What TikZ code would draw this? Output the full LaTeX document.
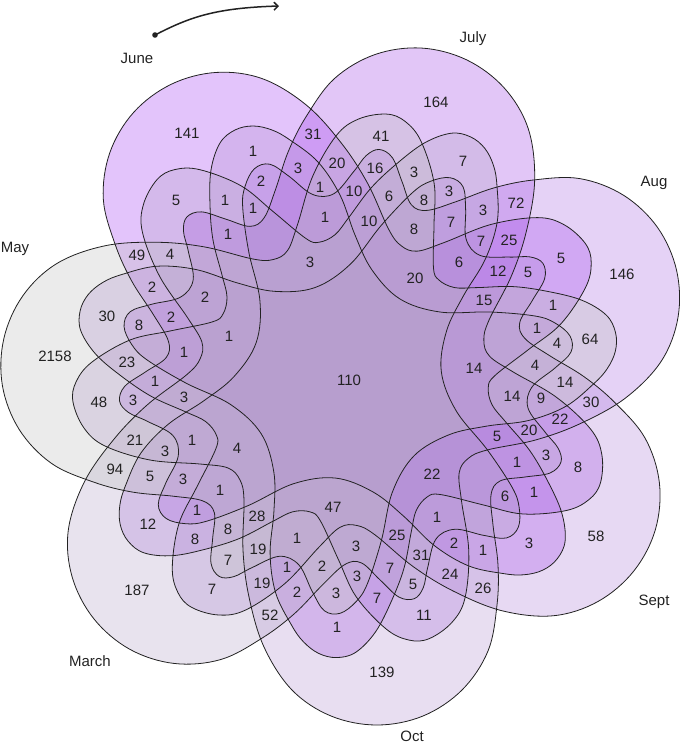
\documentclass[tikz,border=0pt]{standalone}
\usepackage{fontspec}
\setmainfont{Liberation Sans}
\usetikzlibrary{arrows.meta}
\definecolor{txt}{HTML}{222222}
\def\octcurve{(210,205)(211,170)(220,143)(235,130)(253,126)(272,130)(290,140)(318,162)(340,195)(355,235)(372,270)(400,299)(440,312)(490,312)(535,316)(555,323)(570,336)(571,352)(555,368)(532,387)(528,408)(545,432)(558,448)(561,462)(550,473)(525,477)(500,481)(491,495)(493,525)(498,565)(497,605)(488,651)(462,690)(423,716)(377,725)(331,716)(292,690)(264,647)(249,597)(243,550)(244,500)(240,480)(228,468)(200,464)(150,460)(105,446)(84,428)(73,402)(76,382)(92,362)(130,340)(170,331)(212,322)(223,314)(227,297)(222,275)(213,240)}
\tikzset{
  petalfill/.style={fill opacity=0.3},
  petalline/.style={draw=txt,line width=0.8pt},
  num/.style={font=\fontsize{15}{16}\selectfont,text=txt,inner sep=0pt,yshift=-0.6pt},
  month/.style={font=\fontsize{15}{16}\selectfont,text=txt,inner sep=0pt}
}
% #1 angle, #2 dx, #3 dy, #4 style
\newcommand{\petal}[4]{%
  \begin{scope}[shift={(#2,#3)},rotate around={#1:(342,381)}]
  \path[#4] plot[smooth cycle,tension=0.6] coordinates {\octcurve};
  \end{scope}}
\begin{document}
\begin{tikzpicture}[x=1pt,y=-1pt]
\useasboundingbox (0,0) rectangle (685,744);
\definecolor{cJune}{RGB}{162,58,242}
\definecolor{cJuly}{RGB}{158,65,228}
\definecolor{cAug}{RGB}{168,105,225}
\definecolor{cSept}{RGB}{175,128,215}
\definecolor{cOct}{RGB}{178,145,208}
\definecolor{cMarch}{RGB}{178,162,198}
\definecolor{cMay}{RGB}{188,188,188}
\def\pA{205.714}\def\pB{154.286}\def\pC{102.857}\def\pD{51.429}\def\pE{0}\def\pF{308.571}\def\pG{257.143}
\petal{\pA}{10}{-2}{petalfill,fill=cJune}
\petal{\pB}{7}{4}{petalfill,fill=cJuly}
\petal{\pC}{7}{0}{petalfill,fill=cAug}
\petal{\pD}{1}{3}{petalfill,fill=cSept}
\petal{\pE}{0}{0}{petalfill,fill=cOct}
\petal{\pF}{-1}{-4}{petalfill,fill=cMarch}
\petal{\pG}{5}{0}{petalfill,fill=cMay}
\petal{\pA}{10}{-2}{petalline}
\petal{\pB}{7}{4}{petalline}
\petal{\pC}{7}{0}{petalline}
\petal{\pD}{1}{3}{petalline}
\petal{\pE}{0}{0}{petalline}
\petal{\pF}{-1}{-4}{petalline}
\petal{\pG}{5}{0}{petalline}
\foreach \n/\x/\y/\t in {
a1/436/102/164,a2/187/133/141,a3/313/134/31,a4/381/136/41,a5/253/151/1,a6/337/163/20,a7/375/168/16,a8/463/161/7,a9/298/168/3,a10/414/172/3,a11/261/181/2,a12/320/187/1,a13/354/191/10,a14/389/196/6,a15/449/191/3,a16/424/200/8,a17/176/200/5,a18/225/200/1,a19/253/208/1,a20/516/203/72,a21/483/210/3,a22/325/217/1,a23/369/221/10,a24/451/222/7,a25/414/229/8,a26/228/234/1,a27/481/241/7,a28/509/240/25,a29/561/258/5,a30/310/262/3,a31/459/262/6,a32/415/278/20,a33/498/271/12,a34/528/272/5,a35/622/274/146,a36/137/255/49,a37/170/254/4,a38/152/287/2,a39/205/297/2,a40/484/300/15,a41/553/305/1,a42/107/316/30,a43/139/325/8,a44/171/317/2,a45/537/328/1,a46/590/339/64,a47/229/336/1,a48/557/343/4,a49/55/356/2158,a50/184/352/1,a51/349/380/110,a52/474/368/14,a53/535/365/4,a54/127/362/23,a55/565/382/14,a56/155/381/1,a57/133/400/3,a58/184/397/3,a59/99/402/48,a60/512/396/14,a61/541/398/9,a62/591/402/30,a63/560/419/22,a64/135/440/21,a65/192/440/1,a66/237/448/4,a67/165/451/3,a68/529/430/20,a69/497/436/5,a70/546/455/3,a71/517/462/1,a72/115/469/94,a73/150/476/5,a74/183/479/3,a75/432/474/22,a76/578/467/8,a77/220/490/1,a78/534/492/1,a79/505/496/6,a80/333/507/47,a81/197/510/1,a82/257/516/28,a83/437/517/1,a84/148/524/12,a85/228/529/8,a86/195/539/8,a87/529/543/3,a88/596/536/58,a89/297/538/1,a90/397/535/25,a91/356/546/3,a92/454/543/2,a93/483/550/1,a94/258/549/19,a95/228/560/7,a96/421/555/31,a97/390/568/7,a98/322/566/2,a99/287/567/1,a100/357/576/3,a101/450/574/24,a102/212/589/7,a103/262/583/19,a104/137/590/187,a105/297/592/2,a106/336/593/3,a107/413/584/5,a108/377/598/7,a109/483/588/26,a110/270/615/52,a111/424/615/11,a112/337/627/1,a113/382/672/139}
  {\node[num] (\n) at (\x,\y) {\t};}
\node[month] (mJune) at (137,58) {June};
\node[month] (mJuly) at (473,39) {July};
\node[month] (mAug) at (654,183) {Aug};
\node[month] (mSept) at (654,602) {Sept};
\node[month] (mOct) at (412,736) {Oct};
\node[month] (mMarch) at (90,661) {March};
\node[month] (mMay) at (15,249) {May};
\fill[txt] (155,35) circle (2.8);
\coordinate (arrowstart) at (155,35);
\coordinate (arrowend) at (279,6);
\draw[txt,line width=1.5pt,-{Straight Barb[length=4pt,width=8pt]}] (arrowstart) .. controls (190,17) and (215,8) .. (arrowend);
\end{tikzpicture}
\end{document}
